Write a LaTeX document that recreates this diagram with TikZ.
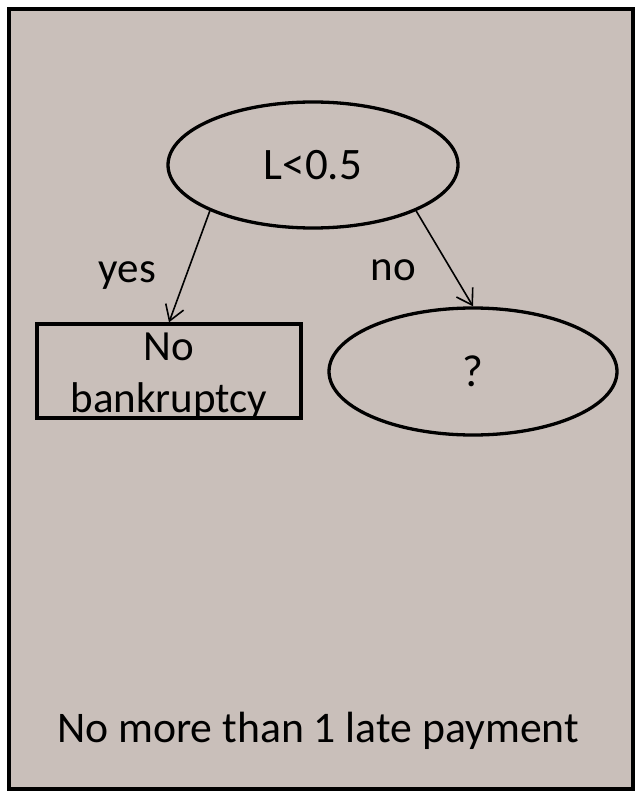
\documentclass[tikz,border=0pt]{standalone}
\usepackage{fontspec}
\setmainfont{Carlito}
\usetikzlibrary{arrows.meta,shapes.geometric}

\definecolor{panelfill}{RGB}{201,191,186}

\tikzset{
  panel/.style={draw=black, line width=4pt, fill=panelfill},
  decision/.style={ellipse, draw=black, line width=3.3pt, inner sep=0pt,
    font=\fontsize{45}{52}\selectfont},
  leafbox/.style={rectangle, draw=black, line width=3.3pt, inner sep=0pt,
    minimum width=264pt, minimum height=94pt},
  txt/.style={inner sep=0pt, font=\fontsize{43}{52}\selectfont},
  branch/.style={line width=1.6pt, -{Straight Barb[length=15pt,width=19pt,line width=1.6pt]}}
}

\begin{document}
\begin{tikzpicture}[x=1pt, y=-1pt]
  \useasboundingbox (0,0) rectangle (635,794);

  % outer panel
  \draw[panel] (9,9) rectangle (633,789);

  % root test
  \node[decision, minimum width=290pt, minimum height=126pt] (root) at (313,165) {L<0.5};

  % leaf for the "yes" branch
  \node[leafbox] (leaf) at (169,371) {};
  \node[txt, anchor=base] (leafa) at (169,360) {No};
  \node[txt, anchor=base] (leafb) at (169,412) {bankruptcy};

  % open node for the "no" branch
  \node[decision, minimum width=288pt, minimum height=127pt] (open) at (473,371.5) {?};

  % branches
  \draw[branch] (root.204) -- (leaf.north);
  \draw[branch] (root.336) -- (open.north);

  % branch labels
  \node[txt, anchor=base east] (yes) at (156,282) {yes};
  \node[txt, anchor=base east] (no) at (416,280) {no};

  % caption
  \node[txt, anchor=base west, font=\fontsize{43.7}{52}\selectfont] (cap) at (57,742) {No more than 1 late payment};
\end{tikzpicture}
\end{document}
